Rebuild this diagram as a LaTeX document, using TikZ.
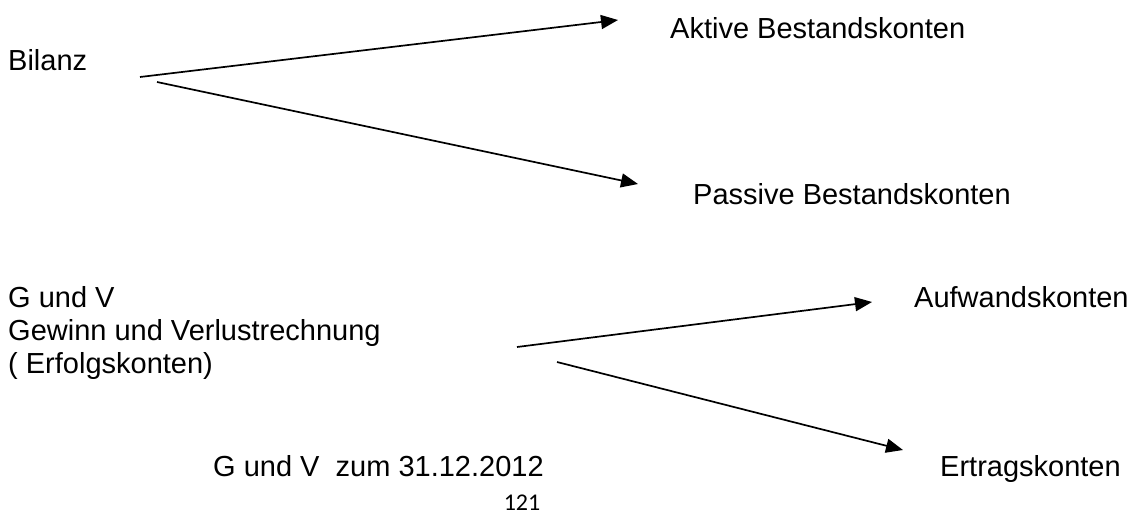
\documentclass[tikz,border=0pt]{standalone}
\usepackage{fontspec}
\setmainfont{Liberation Sans}
\newfontfamily\seitenfont{Carlito}
\usetikzlibrary{arrows.meta}
\tikzset{
  konto/.style={anchor=base west,inner sep=0pt,font=\fontsize{29}{33}\selectfont},
  pfeil/.style={line width=1.7pt,-{Triangle[length=17pt,width=14pt]}}
}
\begin{document}
\begin{tikzpicture}[x=1pt,y=-1pt]
\useasboundingbox (0,0) rectangle (1138,514);
% Bilanz
\node[konto] (bilanz) at (8,70) {Bilanz};
\node[konto] (aktiv) at (670,38) {Aktive Bestandskonten};
\node[konto] (passiv) at (693,204) {Passive Bestandskonten};
\coordinate (bil1) at (140,77);
\coordinate (bil2) at (157,82);
\coordinate (akt) at (618,20);
\coordinate (pas) at (638,184);
\draw[pfeil] (bil1) -- (akt);
\draw[pfeil] (bil2) -- (pas);
% G und V
\node[konto] (guv) at (8,307) {G und V};
\node[konto] (gewinn) at (8,340) {Gewinn und Verlustrechnung};
\node[konto] (erfolg) at (8,373) {( Erfolgskonten)};
\node[konto] (aufwand) at (914,307) {Aufwandskonten};
\node[konto] (ertrag) at (940,476) {Ertragskonten};
\coordinate (guv1) at (517,347);
\coordinate (guv2) at (557,362);
\coordinate (auf) at (872,302);
\coordinate (ert) at (903,450);
\draw[pfeil] (guv1) -- (auf);
\draw[pfeil] (guv2) -- (ert);
\node[konto] (datum) at (213,476) {G und V\ \ zum 31.12.2012};
\node[anchor=base,inner sep=0pt,font=\seitenfont\fontsize{24}{28}\selectfont] (seite) at (522,510) {121};
\end{tikzpicture}
\end{document}
